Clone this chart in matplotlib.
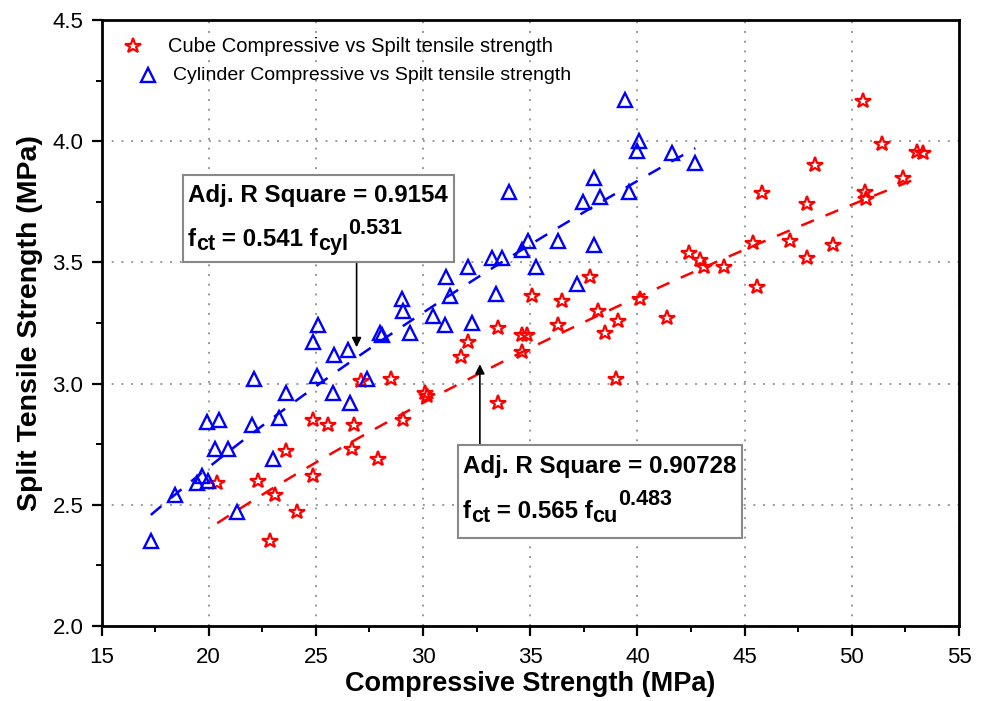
import matplotlib
matplotlib.use("Agg")
import matplotlib.pyplot as plt
import matplotlib.transforms as mtransforms
from matplotlib.patches import Rectangle
from matplotlib.ticker import MultipleLocator
import numpy as np

# Cube compressive strength (MPa) vs split tensile strength (MPa)
cube_fcu = [20.4, 22.3, 22.85, 23.1, 23.6, 24.1, 24.86, 24.86, 25.56, 26.7,
            26.8, 27.1, 27.9, 28.5, 29.05, 30.1, 30.2, 31.77, 32.1, 33.5,
            33.5, 34.6, 34.6, 34.85, 35.1, 36.3, 36.5, 37.8, 38.15, 38.5,
            39.0, 39.1, 40.1, 41.4, 42.4, 42.9, 43.1, 44.06, 45.4, 45.6,
            45.8, 47.1, 47.9, 47.9, 48.3, 49.1, 50.5, 50.6, 50.65, 51.4,
            52.4, 53.06, 53.3]
cube_fct = [2.59, 2.60, 2.35, 2.54, 2.72, 2.47, 2.62, 2.85, 2.83, 2.73,
            2.83, 3.01, 2.69, 3.02, 2.85, 2.96, 2.95, 3.11, 3.17, 3.23,
            2.92, 3.13, 3.20, 3.20, 3.36, 3.24, 3.34, 3.44, 3.30, 3.21,
            3.02, 3.26, 3.35, 3.27, 3.54, 3.51, 3.48, 3.48, 3.58, 3.40,
            3.785, 3.59, 3.74, 3.52, 3.90, 3.57, 4.165, 3.79, 3.76, 3.99,
            3.85, 3.955, 3.95]

# Cylinder compressive strength (MPa) vs split tensile strength (MPa)
cyl_fcyl = [17.3, 18.43, 19.45, 19.7, 19.97, 20.3, 20.9, 21.3, 19.9, 20.5,
            22.0, 22.1, 23.0, 23.3, 23.6, 24.86, 25.1, 25.05, 25.8, 25.85,
            26.5, 26.6, 27.4, 28.0, 28.1, 29.0, 29.05, 29.4, 30.45, 31.0,
            31.06, 31.25, 32.1, 32.27, 33.2, 33.4, 33.7, 34.0, 34.6, 34.9,
            35.25, 36.3, 37.2, 37.45, 37.96, 37.96, 38.24, 39.4, 39.6, 40.0,
            40.06, 41.6, 42.7]
cyl_fct = [2.35, 2.54, 2.59, 2.62, 2.60, 2.73, 2.73, 2.47, 2.84, 2.85,
           2.83, 3.02, 2.69, 2.86, 2.96, 3.17, 3.24, 3.03, 2.96, 3.12,
           3.14, 2.92, 3.02, 3.21, 3.20, 3.35, 3.30, 3.21, 3.28, 3.24,
           3.44, 3.36, 3.48, 3.25, 3.52, 3.37, 3.52, 3.79, 3.55, 3.59,
           3.48, 3.59, 3.41, 3.75, 3.57, 3.85, 3.77, 4.17, 3.79, 3.96,
           4.00, 3.95, 3.91]

# Power-law fits: f_ct = a * f^b
cube_fit = (0.565, 0.483)
cyl_fit = (0.541, 0.531)
cube_r2 = "0.90728"
cyl_r2 = "0.9154"

legend_labels = ["Cube Compressive vs Spilt tensile strength",
                 "Cylinder Compressive vs Spilt tensile strength"]
x_ticks = [15, 20, 25, 30, 35, 40, 45, 50, 55]
y_ticks = [2.0, 2.5, 3.0, 3.5, 4.0, 4.5]

RED = "#ff0000"
BLUE = "#0000ff"
SANS = ["Liberation Sans", "DejaVu Sans"]

fig = plt.figure(figsize=(9.88, 7.01), dpi=100)
ax = fig.add_axes([101.5 / 988, 1 - 626 / 701, (959 - 101.5) / 988, (626 - 20) / 701])

# Scatter series
ax.plot(cube_fcu, cube_fct, linestyle="none", marker="*", markersize=11.5,
        markerfacecolor="none", markeredgecolor=RED, markeredgewidth=1.6, zorder=4)
ax.plot(cyl_fcyl, cyl_fct, linestyle="none", marker="^", markersize=10.5,
        markerfacecolor="none", markeredgecolor=BLUE, markeredgewidth=1.7, zorder=4)

# Fitted curves
xc = np.linspace(min(cube_fcu), max(cube_fcu), 200)
ax.plot(xc, cube_fit[0] * xc ** cube_fit[1], color=RED, lw=1.8,
        dashes=(5.5, 5), zorder=3)
xy = np.linspace(min(cyl_fcyl), max(cyl_fcyl), 200)
ax.plot(xy, cyl_fit[0] * xy ** cyl_fit[1], color=BLUE, lw=1.8,
        dashes=(5.5, 5), zorder=3)

ax.set_xlim(15, 55)
ax.set_ylim(2.0, 4.5)
ax.set_xticks(x_ticks)
ax.set_yticks(y_ticks)
ax.set_xticklabels([str(v) for v in x_ticks])
ax.set_yticklabels([f"{v:.1f}" for v in y_ticks])
ax.xaxis.set_minor_locator(MultipleLocator(2.5))
ax.yaxis.set_minor_locator(MultipleLocator(0.25))
ax.tick_params(which="major", direction="out", length=7, width=1.6,
               labelsize=16, pad=6)
ax.tick_params(axis="x", which="major", pad=8)
ax.tick_params(which="minor", direction="out", length=4, width=1.4)
for lab in ax.get_xticklabels() + ax.get_yticklabels():
    lab.set_family(SANS)
for sp in ax.spines.values():
    sp.set_linewidth(2.0)
ax.grid(True, which="major", color="#999999", linestyle=(0, (1, 4)), lw=1.4)
ax.set_axisbelow(True)

ax.set_xlabel("Compressive Strength (MPa)", fontsize=19.5, fontweight="bold",
              family=SANS, labelpad=2)
ax.set_ylabel("Split Tensile Strength (MPa)", fontsize=20.5, fontweight="bold",
              family=SANS, labelpad=7)

# Legend entries
ax.plot([0.037], [0.957], transform=ax.transAxes, marker="*", markersize=11.5,
        markerfacecolor="none", markeredgecolor=RED, markeredgewidth=1.6,
        linestyle="none", clip_on=False)
ax.text(0.0776, 0.957, legend_labels[0], transform=ax.transAxes, fontsize=14.5,
        family=SANS, va="center", ha="left")
ax.plot([0.054], [0.909], transform=ax.transAxes, marker="^", markersize=10.5,
        markerfacecolor="none", markeredgecolor=BLUE, markeredgewidth=1.7,
        linestyle="none", clip_on=False)
ax.text(0.0834, 0.909, legend_labels[1], transform=ax.transAxes, fontsize=14,
        family=SANS, va="center", ha="left")

renderer = fig.canvas.get_renderer()


def rich_text(x, y, pieces):
    """Draw bold text pieces one after another; each piece is
    (text, fontsize, vertical offset in pixels)."""
    xoff = 0.0
    for s, size, dy in pieces:
        tr = mtransforms.offset_copy(ax.transData, fig=fig, x=xoff, y=dy,
                                     units="dots")
        t = ax.text(x, y, s, transform=tr, fontsize=size, fontweight="bold",
                    family=SANS, ha="left", va="baseline", zorder=7)
        xoff += t.get_window_extent(renderer=renderer).width


def note_box(x0, y0, x1, y1):
    ax.add_patch(Rectangle((x0, y0), x1 - x0, y1 - y0, facecolor="white",
                           edgecolor="#888888", lw=1.5, zorder=6))


# Cylinder fit annotation
note_box(18.8, 3.50, 31.43, 3.86)
rich_text(19.03, 3.748, [(f"Adj. R Square = {cyl_r2}", 17.4, 0)])
rich_text(19.03, 3.566, [("f", 17.4, 0), ("ct", 15.5, -4),
                         (f" = {cyl_fit[0]} f", 17.4, 0), ("cyl", 15.5, -4),
                         (f"{cyl_fit[1]}", 15.5, 12)])
ax.annotate("", xy=(26.9, 3.15), xytext=(26.9, 3.50),
            arrowprops=dict(arrowstyle="-|>", color="black", lw=1.2,
                            mutation_scale=14, shrinkA=0, shrinkB=0), zorder=5)

# Cube fit annotation
note_box(31.62, 2.364, 44.9, 2.748)
rich_text(31.85, 2.632, [(f"Adj. R Square = {cube_r2}", 17.4, 0)])
rich_text(31.85, 2.446, [("f", 17.4, 0), ("ct", 15.5, -4),
                         (f" = {cube_fit[0]} f", 17.4, 0), ("cu", 15.5, -4),
                         (f"{cube_fit[1]}", 15.5, 13)])
ax.annotate("", xy=(32.65, 3.08), xytext=(32.65, 2.748),
            arrowprops=dict(arrowstyle="-|>", color="black", lw=1.2,
                            mutation_scale=14, shrinkA=0, shrinkB=0), zorder=5)

fig.savefig("out.png", dpi=100)
